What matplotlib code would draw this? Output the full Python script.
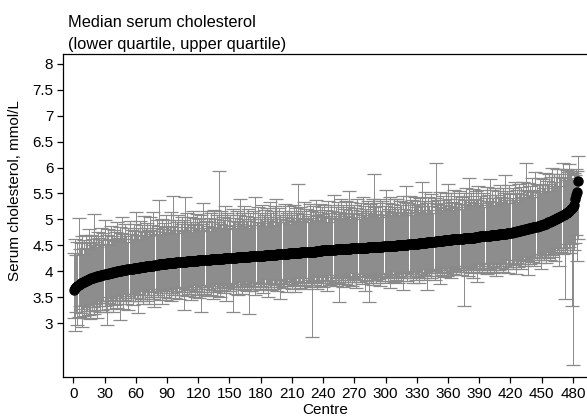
import matplotlib.pyplot as plt
import numpy as np

plt.rcParams['font.family'] = ['Liberation Sans', 'DejaVu Sans']

# Median serum cholesterol per centre (sorted), mmol/L
median = [
    3.64, 3.67, 3.70, 3.72, 3.74, 3.76, 3.77, 3.78, 3.79, 3.80,
    3.81, 3.82, 3.83, 3.84, 3.85, 3.85, 3.86, 3.87, 3.87, 3.88,
    3.89, 3.89, 3.90, 3.90, 3.91, 3.91, 3.92, 3.92, 3.93, 3.94,
    3.94, 3.95, 3.95, 3.96, 3.96, 3.97, 3.97, 3.98, 3.98, 3.99,
    3.99, 4.00, 4.00, 4.00, 4.01, 4.01, 4.02, 4.02, 4.03, 4.03,
    4.03, 4.04, 4.04, 4.04, 4.05, 4.05, 4.05, 4.06, 4.06, 4.06,
    4.07, 4.07, 4.07, 4.08, 4.08, 4.08, 4.09, 4.09, 4.09, 4.10,
    4.10, 4.10, 4.10, 4.11, 4.11, 4.11, 4.11, 4.12, 4.12, 4.12,
    4.12, 4.13, 4.13, 4.13, 4.13, 4.14, 4.14, 4.14, 4.14, 4.15,
    4.15, 4.15, 4.15, 4.15, 4.16, 4.16, 4.16, 4.16, 4.17, 4.17,
    4.17, 4.17, 4.17, 4.18, 4.18, 4.18, 4.18, 4.18, 4.19, 4.19,
    4.19, 4.19, 4.19, 4.20, 4.20, 4.20, 4.20, 4.20, 4.20, 4.21,
    4.21, 4.21, 4.21, 4.21, 4.21, 4.22, 4.22, 4.22, 4.22, 4.22,
    4.22, 4.23, 4.23, 4.23, 4.23, 4.23, 4.23, 4.24, 4.24, 4.24,
    4.24, 4.24, 4.24, 4.24, 4.25, 4.25, 4.25, 4.25, 4.25, 4.25,
    4.26, 4.26, 4.26, 4.26, 4.26, 4.26, 4.27, 4.27, 4.27, 4.27,
    4.27, 4.27, 4.28, 4.28, 4.28, 4.28, 4.28, 4.28, 4.28, 4.29,
    4.29, 4.29, 4.29, 4.29, 4.29, 4.29, 4.30, 4.30, 4.30, 4.30,
    4.30, 4.30, 4.30, 4.31, 4.31, 4.31, 4.31, 4.31, 4.31, 4.32,
    4.32, 4.32, 4.32, 4.32, 4.32, 4.33, 4.33, 4.33, 4.33, 4.33,
    4.33, 4.34, 4.34, 4.34, 4.34, 4.34, 4.35, 4.35, 4.35, 4.35,
    4.35, 4.35, 4.36, 4.36, 4.36, 4.36, 4.36, 4.36, 4.37, 4.37,
    4.37, 4.37, 4.37, 4.37, 4.37, 4.38, 4.38, 4.38, 4.38, 4.38,
    4.38, 4.38, 4.39, 4.39, 4.39, 4.39, 4.39, 4.39, 4.40, 4.40,
    4.40, 4.40, 4.40, 4.40, 4.41, 4.41, 4.41, 4.41, 4.41, 4.41,
    4.41, 4.42, 4.42, 4.42, 4.42, 4.42, 4.42, 4.42, 4.43, 4.43,
    4.43, 4.43, 4.43, 4.43, 4.43, 4.43, 4.44, 4.44, 4.44, 4.44,
    4.44, 4.44, 4.44, 4.44, 4.45, 4.45, 4.45, 4.45, 4.45, 4.45,
    4.45, 4.45, 4.46, 4.46, 4.46, 4.46, 4.46, 4.46, 4.46, 4.47,
    4.47, 4.47, 4.47, 4.47, 4.47, 4.47, 4.47, 4.48, 4.48, 4.48,
    4.48, 4.48, 4.48, 4.48, 4.49, 4.49, 4.49, 4.49, 4.49, 4.49,
    4.50, 4.50, 4.50, 4.50, 4.50, 4.50, 4.51, 4.51, 4.51, 4.51,
    4.51, 4.52, 4.52, 4.52, 4.52, 4.52, 4.53, 4.53, 4.53, 4.53,
    4.53, 4.54, 4.54, 4.54, 4.54, 4.55, 4.55, 4.55, 4.55, 4.56,
    4.56, 4.56, 4.56, 4.57, 4.57, 4.57, 4.57, 4.58, 4.58, 4.58,
    4.58, 4.59, 4.59, 4.59, 4.59, 4.60, 4.60, 4.60, 4.60, 4.61,
    4.61, 4.61, 4.61, 4.62, 4.62, 4.62, 4.62, 4.62, 4.63, 4.63,
    4.63, 4.63, 4.63, 4.63, 4.64, 4.64, 4.64, 4.64, 4.64, 4.64,
    4.65, 4.65, 4.65, 4.65, 4.65, 4.66, 4.66, 4.66, 4.66, 4.66,
    4.67, 4.67, 4.67, 4.67, 4.67, 4.68, 4.68, 4.68, 4.68, 4.68,
    4.69, 4.69, 4.69, 4.69, 4.70, 4.70, 4.70, 4.70, 4.71, 4.71,
    4.71, 4.71, 4.72, 4.72, 4.72, 4.72, 4.73, 4.73, 4.73, 4.74,
    4.74, 4.75, 4.75, 4.76, 4.76, 4.77, 4.77, 4.78, 4.78, 4.79,
    4.79, 4.80, 4.80, 4.81, 4.81, 4.82, 4.82, 4.83, 4.83, 4.84,
    4.84, 4.85, 4.85, 4.86, 4.86, 4.87, 4.88, 4.88, 4.89, 4.90,
    4.90, 4.91, 4.92, 4.92, 4.93, 4.94, 4.95, 4.95, 4.96, 4.97,
    4.98, 4.99, 5.00, 5.01, 5.02, 5.03, 5.04, 5.05, 5.06, 5.08,
    5.09, 5.10, 5.12, 5.13, 5.15, 5.16, 5.18, 5.20, 5.22, 5.24,
    5.28, 5.40, 5.47, 5.53, 5.75,
]

# distance from median down to lower quartile
below = [
    0.55, 0.83, 0.48, 0.75, 0.62, 0.44, 0.58, 0.86, 0.51, 0.67,
    0.46, 0.72, 0.60, 0.53, 0.69, 0.78, 0.49, 0.63, 0.56, 0.71,
    0.52, 0.64, 0.81, 0.47, 0.59, 0.70, 0.54, 0.66, 0.50, 0.62,
    0.73, 0.98, 0.57, 0.45, 0.68, 0.53, 0.61, 0.77, 0.49, 0.65,
    0.56, 0.70, 0.48, 0.63, 0.95, 0.52, 0.60, 0.74, 0.46, 0.58,
    0.67, 0.51, 0.79, 0.55, 0.62, 0.48, 0.71, 0.57, 0.64, 0.50,
    0.59, 0.88, 0.53, 0.66, 0.47, 0.61, 0.72, 0.54, 0.63, 0.49,
    0.68, 0.56, 0.74, 0.45, 0.60, 0.52, 0.65, 0.81, 0.50, 0.58,
    0.62, 0.47, 0.69, 0.55, 0.76, 0.51, 0.64, 0.48, 0.70, 0.57,
    0.53, 0.66, 0.49, 0.73, 0.58, 0.61, 0.46, 0.68, 0.55, 0.63,
    0.50, 0.71, 0.57, 0.64, 0.48, 0.93, 0.59, 0.52, 0.67, 0.56,
    0.62, 0.49, 0.75, 0.54, 0.60, 0.47, 0.69, 0.58, 0.65, 0.51,
    0.72, 0.55, 0.99, 0.61, 0.48, 0.66, 0.53, 0.70, 0.57, 0.63,
    0.50, 0.68, 0.59, 0.77, 0.52, 0.64, 0.46, 0.71, 0.56, 0.62,
    0.74, 0.49, 0.60, 0.55, 0.67, 0.51, 0.83, 0.58, 0.63, 0.47,
    0.65, 0.54, 1.04, 0.61, 0.50, 0.69, 0.57, 0.73, 0.48, 0.62,
    0.56, 0.70, 0.52, 0.64, 0.59, 0.47, 0.66, 0.55, 1.10, 0.60,
    0.68, 0.51, 0.63, 0.57, 0.75, 0.49, 0.61, 0.54, 0.67, 0.58,
    0.52, 0.72, 0.60, 0.46, 0.65, 0.56, 0.80, 0.53, 0.62, 0.69,
    0.57, 0.48, 0.66, 0.59, 0.54, 0.71, 0.50, 0.63, 0.87, 0.55,
    0.61, 0.67, 0.52, 0.58, 0.74, 0.49, 0.64, 0.56, 0.60, 0.70,
    0.53, 0.62, 0.77, 0.55, 0.47, 0.65, 0.59, 0.68, 0.51, 0.63,
    0.57, 0.72, 0.50, 0.66, 0.60, 0.54, 0.61, 0.69, 1.64, 0.56,
    0.64, 0.48, 0.59, 0.73, 0.55, 0.62, 0.51, 0.67, 0.58, 0.70,
    0.52, 0.63, 0.56, 0.79, 0.60, 0.49, 0.68, 0.57, 0.65, 0.53,
    0.61, 0.71, 0.55, 0.64, 1.01, 0.50, 0.62, 0.58, 0.74, 0.56,
    0.67, 0.52, 0.60, 0.69, 0.54, 0.63, 0.48, 0.72, 0.57, 0.65,
    0.59, 0.76, 0.53, 0.61, 0.66, 0.50, 0.70, 0.56, 0.62, 0.84,
    0.55, 0.64, 0.58, 1.05, 0.51, 0.68, 0.60, 0.73, 0.54, 0.63,
    0.69, 0.57, 0.62, 0.50, 0.75, 0.59, 0.65, 0.53, 0.71, 0.58,
    0.61, 0.67, 0.54, 0.80, 0.57, 0.63, 0.49, 0.70, 0.60, 0.66,
    0.56, 0.72, 0.62, 0.51, 0.68, 0.59, 0.88, 0.55, 0.64, 0.60,
    0.70, 0.53, 0.66, 0.61, 0.57, 0.74, 0.52, 0.63, 0.69, 0.58,
    0.64, 0.77, 0.55, 0.60, 0.67, 0.50, 0.71, 0.62, 0.56, 0.92,
    0.59, 0.65, 0.53, 0.70, 0.61, 0.57, 0.73, 0.54, 0.68, 0.62,
    0.56, 0.83, 0.60, 0.66, 0.51, 0.72, 0.58, 0.64, 0.69, 0.55,
    0.63, 0.59, 0.75, 0.54, 0.67, 0.61, 0.57, 0.70, 0.52, 0.65,
    0.60, 0.71, 0.56, 0.64, 1.31, 0.58, 0.66, 0.53, 0.73, 0.62,
    0.57, 0.68, 0.61, 0.78, 0.55, 0.63, 0.59, 0.86, 0.52, 0.67,
    0.62, 0.56, 0.70, 0.60, 0.65, 0.53, 0.74, 0.58, 0.64, 0.69,
    0.55, 0.66, 0.61, 0.72, 0.57, 0.79, 0.63, 0.54, 0.68, 0.60,
    0.64, 0.58, 0.73, 0.56, 0.62, 0.67, 0.51, 0.76, 0.60, 0.65,
    0.59, 0.70, 0.63, 0.55, 0.82, 0.61, 0.68, 0.57, 0.64, 0.74,
    0.60, 0.66, 0.53, 0.71, 0.58, 0.63, 0.90, 0.56, 0.69, 0.62,
    0.67, 0.57, 0.75, 0.61, 0.65, 0.54, 0.72, 0.60, 0.85, 0.63,
    0.58, 0.70, 0.64, 0.77, 0.56, 0.68, 0.62, 0.73, 0.59, 0.66,
    0.71, 0.61, 0.80, 0.57, 0.67, 0.63, 0.94, 0.60, 0.69, 0.74,
    0.65, 1.63, 0.72, 0.78, 0.62, 0.70, 0.83, 0.68, 1.90, 3.04,
    0.88, 0.85, 0.77, 1.33, 1.13,
]

# distance from median up to upper quartile
above = [
    0.72, 0.95, 0.61, 0.84, 1.29, 0.66, 0.78, 0.90, 0.55, 0.81,
    0.63, 0.88, 0.74, 0.59, 0.97, 0.70, 0.83, 0.64, 0.76, 1.22,
    0.68, 0.79, 0.57, 0.86, 0.73, 0.62, 0.92, 0.69, 0.80, 1.05,
    0.58, 0.75, 0.87, 0.66, 0.54, 0.91, 0.71, 0.63, 0.82, 0.60,
    0.77, 0.95, 0.65, 0.56, 0.84, 0.73, 1.02, 0.60, 0.69, 0.88,
    0.64, 0.53, 0.79, 0.92, 0.67, 0.74, 0.58, 0.85, 0.71, 1.08,
    0.62, 0.76, 0.55, 0.89, 0.70, 0.81, 0.59, 0.97, 0.66, 0.74,
    0.83, 0.57, 0.69, 0.93, 0.61, 0.78, 1.04, 0.65, 0.72, 0.86,
    0.60, 1.25, 0.75, 0.56, 0.88, 0.68, 0.79, 0.62, 0.95, 0.71,
    0.84, 0.58, 0.73, 0.99, 0.64, 1.30, 0.70, 0.82, 0.57, 0.77,
    0.91, 0.63, 0.74, 0.86, 0.59, 0.80, 1.26, 0.67, 0.93, 0.72,
    0.61, 0.85, 0.76, 0.55, 0.97, 0.69, 0.82, 0.64, 0.90, 0.73,
    0.79, 0.58, 0.87, 0.70, 1.10, 0.62, 0.75, 0.94, 0.66, 0.81,
    0.56, 0.89, 0.72, 0.63, 0.96, 0.77, 0.60, 0.84, 0.71, 1.69,
    0.68, 0.92, 0.59, 0.80, 0.74, 1.01, 0.65, 0.87, 0.57, 0.78,
    0.83, 0.62, 0.95, 0.70, 0.76, 0.58, 0.90, 0.67, 0.81, 1.12,
    0.64, 0.86, 0.73, 0.98, 0.60, 0.79, 0.69, 0.92, 0.56, 0.84,
    0.72, 0.61, 0.88, 0.75, 1.15, 0.66, 0.94, 0.59, 0.82, 0.70,
    0.97, 0.63, 0.78, 0.87, 0.57, 0.91, 0.74, 0.65, 1.03, 0.80,
    0.69, 0.85, 0.58, 0.93, 1.08, 0.72, 0.62, 0.89, 0.76, 0.67,
    0.84, 0.60, 0.95, 0.71, 0.79, 0.64, 0.90, 0.56, 0.82, 0.74,
    0.68, 0.93, 0.61, 0.86, 0.77, 1.33, 0.66, 0.88, 0.59, 0.80,
    0.73, 0.96, 0.63, 0.84, 0.70, 0.57, 0.92, 0.78, 0.65, 0.87,
    0.60, 0.81, 0.99, 0.69, 0.75, 0.58, 0.90, 0.72, 0.83, 0.64,
    0.88, 0.67, 0.79, 0.55, 0.94, 0.71, 0.62, 0.86, 0.76, 1.06,
    0.65, 0.82, 0.58, 0.91, 0.73, 0.68, 0.97, 0.60, 0.85, 0.77,
    0.70, 0.93, 0.63, 0.80, 1.12, 0.57, 0.89, 0.74, 0.66, 0.84,
    0.61, 0.78, 0.95, 0.69, 0.56, 0.87, 0.72, 0.98, 0.64, 0.81,
    0.75, 0.59, 0.90, 0.67, 0.83, 0.71, 0.62, 0.94, 1.42, 0.76,
    0.85, 0.64, 0.79, 0.57, 0.92, 0.70, 0.88, 0.61, 0.77, 1.09,
    0.68, 0.84, 0.73, 0.96, 0.59, 0.81, 0.66, 0.91, 0.74, 0.63,
    0.89, 0.71, 0.58, 0.86, 0.77, 0.65, 0.95, 0.69, 0.82, 1.14,
    0.62, 0.79, 0.93, 0.67, 0.85, 0.56, 0.74, 0.90, 0.70, 0.83,
    0.76, 0.60, 0.88, 0.72, 1.18, 0.64, 0.81, 0.97, 0.58, 0.75,
    0.87, 0.69, 0.63, 0.92, 0.78, 0.55, 0.84, 1.50, 0.71, 0.80,
    0.66, 0.94, 0.73, 0.59, 0.86, 0.77, 0.68, 0.91, 0.62, 1.07,
    0.79, 0.64, 0.89, 0.72, 0.57, 0.95, 0.70, 0.83, 0.61, 0.76,
    0.92, 0.67, 0.80, 0.58, 0.87, 0.74, 0.96, 0.63, 0.81, 1.16,
    0.69, 0.85, 0.60, 0.93, 0.75, 0.66, 0.88, 0.71, 0.99, 0.62,
    0.78, 0.90, 0.65, 0.83, 0.56, 0.74, 0.94, 0.68, 0.80, 1.10,
    0.64, 0.87, 0.72, 0.59, 0.91, 0.77, 0.63, 0.85, 0.70, 0.96,
    0.73, 0.61, 0.89, 0.79, 1.13, 0.66, 0.82, 0.58, 0.93, 0.75,
    0.68, 0.86, 0.62, 0.97, 0.74, 0.80, 0.57, 0.90, 0.71, 0.84,
    0.65, 0.92, 0.77, 0.60, 1.27, 0.73, 0.88, 0.64, 0.81, 0.69,
    0.95, 0.72, 0.58, 1.05, 0.83, 0.67, 0.79, 0.91, 0.62, 0.76,
    0.87, 0.70, 0.98, 0.63, 0.81, 0.74, 0.93, 0.59, 0.85, 1.02,
    0.66, 0.89, 0.73, 0.80, 0.95, 0.61, 0.84, 0.77, 0.92, 1.00,
    0.71, 0.88, 0.64, 0.82, 0.76, 0.90, 0.69, 0.74, 0.58, 0.52,
    0.62, 0.45, 0.50, 0.41, 0.48,
]

centre = np.arange(1, len(median) + 1)
x_ticks = list(range(0, 481, 30))
y_ticks = [3, 3.5, 4, 4.5, 5, 5.5, 6, 6.5, 7, 7.5, 8]

fig = plt.figure(figsize=(5.87, 4.16), dpi=100)
ax = fig.add_axes([63 / 587, 1 - 377 / 416, 1 - 63 / 587, (377 - 54) / 416])

ax.errorbar(centre, median, yerr=[below, above], fmt='none', ecolor='#8a8a8a',
            elinewidth=0.7, capsize=5, capthick=0.9, zorder=2)
ax.plot(centre, median, 'o', color='black', markersize=6.5, zorder=3)

ax.set_xlim(-9.9, 493.5)
ax.set_ylim(1.96, 8.19)
ax.set_xticks(x_ticks)
ax.set_yticks(y_ticks)
ax.set_yticklabels([f'{v:g}' for v in y_ticks])
ax.tick_params(direction='out', length=4, width=0.9, labelsize=11, pad=3)
ax.spines['right'].set_visible(False)
for s in ['left', 'top', 'bottom']:
    ax.spines[s].set_linewidth(0.9)

fig.text(68 / 587, 1 - 26.7 / 416, 'Median serum cholesterol', fontsize=11.8, va='baseline')
fig.text(68 / 587, 1 - 49 / 416, '(lower quartile, upper quartile)', fontsize=11.8, va='baseline')
fig.text(15 / 587, 1 - 191 / 416, 'Serum cholesterol, mmol/L', fontsize=11, rotation=90,
         ha='center', va='center')
fig.text(325 / 587, 1 - 414 / 416, 'Centre', fontsize=11, ha='center', va='baseline')

fig.savefig('out.png', dpi=100)
